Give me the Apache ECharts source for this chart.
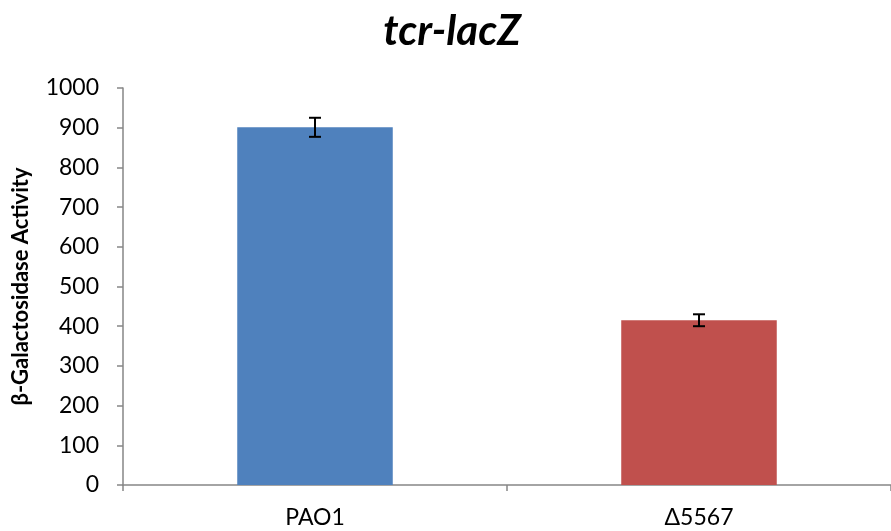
<!DOCTYPE html>
<html><head><meta charset="utf-8">
<script src="https://cdn.jsdelivr.net/npm/echarts@6/dist/echarts.min.js"></script>
<style>html,body{margin:0;padding:0;background:#fff}#c{width:891px;height:531px}</style>
</head><body><div id="c"></div>
<script>
const categories = ['PAO1', 'Δ5567'];
const values = [901, 415];
const errors = [24, 15];
const colors = ['#4F81BD', '#C0504D'];
const yTicks = {min: 0, max: 1000, interval: 100};

const chart = echarts.init(document.getElementById('c'));
const F = 'Lato, "Open Sans", sans-serif';
chart.setOption({
  animation: false,
  title: {text: 'tcr-lacZ', left: 447, top: 5, textAlign: 'center',
    textStyle: {fontFamily: F, fontSize: 42, fontWeight: 'bold', fontStyle: 'italic', color: '#000'}},
  grid: {left: 123, top: 88, right: -10, height: 397, containLabel: false},
  xAxis: {type: 'category', data: categories,
    axisLine: {lineStyle: {color: '#868686', width: 1.5}},
    axisTick: {show: true, length: 6, lineStyle: {color: '#868686', width: 1.5}},
    axisLabel: {fontFamily: F, fontSize: 23, color: '#000', margin: 21}},
  yAxis: {type: 'value', min: yTicks.min, max: yTicks.max, interval: yTicks.interval,
    name: 'β-Galactosidase Activity', nameLocation: 'middle', nameGap: 91, nameRotate: 90,
    nameTextStyle: {fontFamily: F, fontSize: 22, fontWeight: 'bold', color: '#000'},
    axisLine: {show: true, lineStyle: {color: '#868686', width: 1.5}},
    axisTick: {show: true, length: 6, lineStyle: {color: '#868686', width: 1.5}},
    splitLine: {show: false},
    axisLabel: {fontFamily: F, fontSize: 23, color: '#000', margin: 24, formatter: v => String(v)}},
  series: [
    {type: 'bar', barWidth: '40.5%',
     data: values.map((v, i) => ({value: v, itemStyle: {color: colors[i]}}))},
    {type: 'custom', z: 10,
     data: values.map((v, i) => [i, v - errors[i], v + errors[i]]),
     renderItem: function (params, api) {
       const lo = api.coord([api.value(0), api.value(1)]);
       const hi = api.coord([api.value(0), api.value(2)]);
       const hw = 6;
       const st = {stroke: '#000', lineWidth: 2};
       return {type: 'group', children: [
         {type: 'line', shape: {x1: lo[0], y1: lo[1], x2: hi[0], y2: hi[1]}, style: st},
         {type: 'line', shape: {x1: lo[0] - hw, y1: lo[1], x2: lo[0] + hw, y2: lo[1]}, style: st},
         {type: 'line', shape: {x1: hi[0] - hw, y1: hi[1], x2: hi[0] + hw, y2: hi[1]}, style: st}
       ]};
     }}
  ]
});
</script></body></html>
